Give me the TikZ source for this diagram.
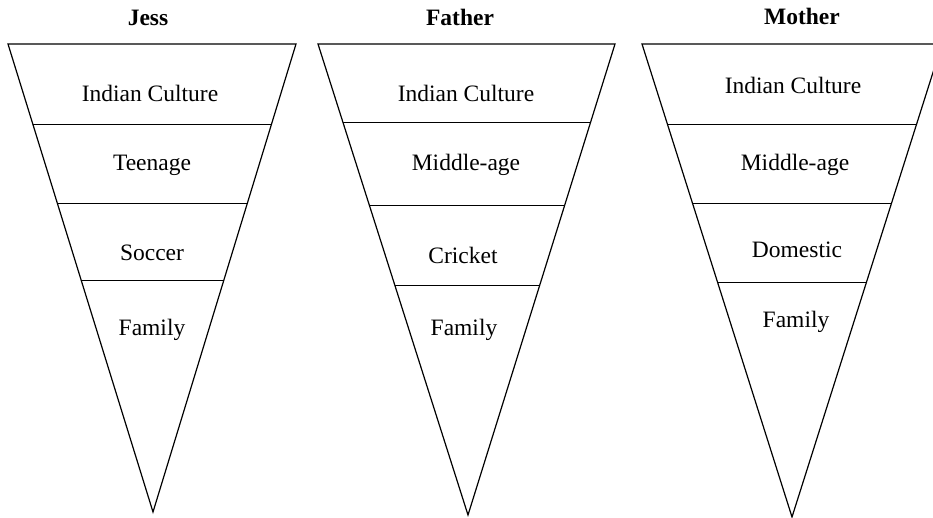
\documentclass[tikz,border=0pt]{standalone}
\usepackage{fontspec}
\setmainfont{Liberation Serif}
\usetikzlibrary{calc}

\tikzset{
  rim/.style={line width=1.2pt, line join=miter},
  layer/.style={line width=1pt},
  tag/.style={font=\fontsize{23.5}{28}\selectfont, inner sep=0pt, anchor=base},
  heading/.style={font=\fontsize{23.5}{28}\selectfont\bfseries, inner sep=0pt, anchor=base}
}

\begin{document}
\begin{tikzpicture}[x=1pt,y=-1pt]
  \useasboundingbox (0,0) rectangle (933,518);

  % Jess
  \coordinate (JL) at (8,44);
  \coordinate (JR) at (296,44);
  \coordinate (JA) at (153,512);
  \draw[rim] (JL) -- (JR) -- (JA) -- cycle;
  \foreach \t in {0.173,0.340,0.506}
    \draw[layer] ($(JL)!\t!(JA)$) -- ($(JR)!\t!(JA)$);
  \node[heading] (jess) at (148,26) {Jess};
  \foreach \txt/\x/\y [count=\i] in {Indian Culture/150/102, Teenage/152/171, Soccer/152/261, Family/152/335}
    \node[tag] (J\i) at (\x,\y) {\txt};

  % Father
  \coordinate (FL) at (318,44);
  \coordinate (FR) at (615,44);
  \coordinate (FA) at (468,515);
  \draw[rim] (FL) -- (FR) -- (FA) -- cycle;
  \foreach \t in {0.166,0.342,0.512}
    \draw[layer] ($(FL)!\t!(FA)$) -- ($(FR)!\t!(FA)$);
  \node[heading] (father) at (460,26) {Father};
  \foreach \txt/\x/\y [count=\i] in {Indian Culture/466/102, Middle-age/466/171, Cricket/463/264, Family/464/335}
    \node[tag] (F\i) at (\x,\y) {\txt};

  % Mother
  \coordinate (ML) at (642,44);
  \coordinate (MR) at (942,44);
  \coordinate (MA) at (792,517);
  \draw[rim] (ML) -- (MR) -- (MA) -- cycle;
  \foreach \t in {0.171,0.338,0.505}
    \draw[layer] ($(ML)!\t!(MA)$) -- ($(MR)!\t!(MA)$);
  \node[heading] (mother) at (802,25) {Mother};
  \foreach \txt/\x/\y [count=\i] in {Indian Culture/793/94, Middle-age/795/171, Domestic/797/258, Family/796/327}
    \node[tag] (M\i) at (\x,\y) {\txt};
\end{tikzpicture}
\end{document}
